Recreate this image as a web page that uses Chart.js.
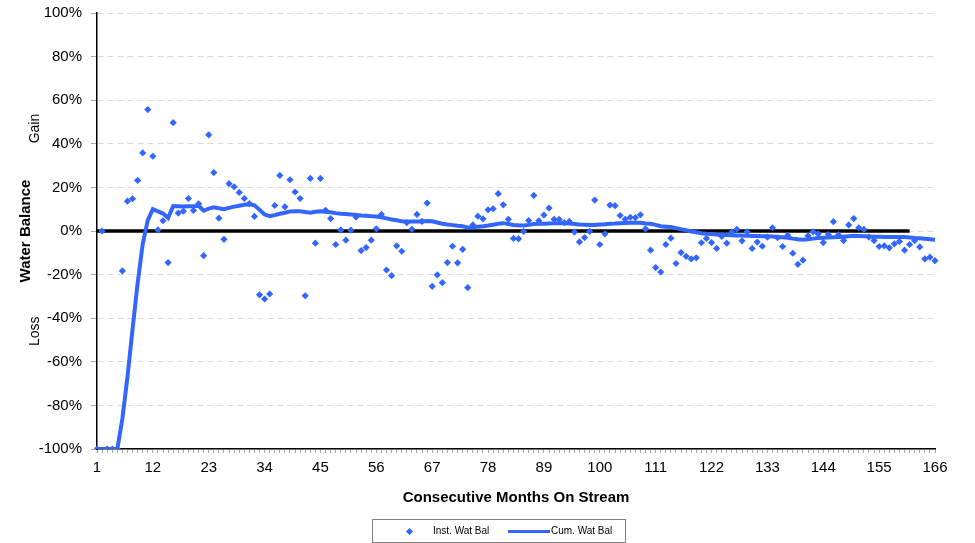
<!DOCTYPE html>
<html>
<head>
<meta charset="utf-8">
<script src="https://cdn.jsdelivr.net/npm/chart.js@4"></script>
<style>
  body{margin:0;background:#fff;}
  #caixa{position:relative;width:975px;height:543px;}
  #legenda{position:absolute;left:372px;top:519px;width:254px;height:24px;border:1px solid #808080;box-sizing:border-box;
    font:10px Arial,"Liberation Sans",sans-serif;color:#000;}
  #legenda span{position:absolute;}
  .losango{left:34px;top:9px;width:5px;height:5px;background:#3366ff;transform:rotate(45deg);}
  .traco{left:135px;top:10px;width:42px;height:3px;background:#3366ff;}
  .txt{top:5px;white-space:nowrap;}
</style>
</head>
<body>
<div id="caixa">
  <canvas id="graficoAgua" width="975" height="543"></canvas>
  <div id="legenda">
    <span class="losango"></span><span class="txt" style="left:60px">Inst. Wat Bal</span>
    <span class="traco"></span><span class="txt" style="left:178px">Cum. Wat Bal</span>
  </div>
</div>
<script>
//MESES (CATEGORIAS DO EIXO X)
const meses = [1,2,3,4,5,6,7,8,9,10,11,12,13,14,15,16,17,18,19,20,21,22,23,24,25,26,27,28,29,30,
  31,32,33,34,35,36,37,38,39,40,41,42,43,44,45,46,47,48,49,50,51,52,53,54,55,56,57,58,59,60,
  61,62,63,64,65,66,67,68,69,70,71,72,73,74,75,76,77,78,79,80,81,82,83,84,85,86,87,88,89,90,
  91,92,93,94,95,96,97,98,99,100,101,102,103,104,105,106,107,108,109,110,111,112,113,114,115,116,117,118,119,120,
  121,122,123,124,125,126,127,128,129,130,131,132,133,134,135,136,137,138,139,140,141,142,143,144,145,146,147,148,149,150,
  151,152,153,154,155,156,157,158,159,160,161,162,163,164,165,166];

//ROTULOS VISIVEIS NO EIXO X
const rotulosX = [1,12,23,34,45,56,67,78,89,100,111,122,133,144,155,166];

//BALANCO INSTANTANEO (%)
const balancoInst = [
  -100, 0, -100, -100, -100, -18.3, 13.7, 14.8, 23.2, 35.8,
  55.7, 34.3, 0.5, 4.7, -14.5, 49.7, 8.2, 9.1, 14.9, 9.4,
  12.5, -11.3, 44.1, 26.8, 5.9, -3.8, 21.7, 20.3, 17.7, 14.9,
  12.6, 6.7, -29.3, -31.2, -28.9, 11.7, 25.5, 11.1, 23.5, 17.9,
  14.9, -29.7, 24.1, -5.6, 24.1, 9.5, 5.7, -6.2, 0.5, -4.2,
  0.4, 6.4, -9, -7.6, -4.2, 1, 7.6, -17.9, -20.5, -6.8,
  -9.3, 3.8, 0.8, 7.6, 4.4, 12.8, -25.4, -20.1, -23.7, -14.5,
  -7, -14.6, -8.4, -26, 2.8, 6.8, 5.6, 9.7, 10.2, 17.1,
  12, 5.4, -3.4, -3.6, -0.2, 4.8, 16.3, 4.7, 7.3, 10.5,
  5.4, 5.3, 3.8, 4.4, -0.5, -5, -3, -0.2, 14.2, -6.2,
  -1.3, 11.9, 11.6, 7.1, 5.4, 6.3, 6.1, 7.4, 1, -8.8,
  -16.8, -18.8, -6.2, -3.3, -14.9, -9.9, -11.6, -12.8, -12.3, -5.4,
  -3.4, -5.3, -8, -2.5, -5.6, -0.5, 0.8, -4.5, -0.4, -8,
  -5.1, -7, -2.8, 1.5, -3.1, -7.1, -2, -10.2, -15.3, -13.4,
  -2.2, -0.4, -1.3, -5.3, -1.6, 4.3, -1.8, -4.4, 2.8, 5.7,
  1.5, 0.7, -2.8, -4.4, -7.1, -6.8, -7.7, -5.9, -4.8, -8.8,
  -6.2, -4.4, -7.3, -12.8, -12, -13.6];

//BALANCO ACUMULADO (%)
const balancoCum = [
  -100, -100, -100, -100, -100, -86, -67, -45, -24, -6,
  5, 10, 9, 8, 6, 11.4, 11.3, 11.2, 11.4, 11.3,
  11.6, 9.3, 10.3, 10.9, 10.4, 10, 10.6, 11.2, 11.6, 12,
  12.3, 11.8, 9.7, 7.6, 6.8, 7.3, 7.9, 8.4, 9, 9.1,
  9.1, 8.7, 8.4, 8.8, 9, 8.8, 8.6, 8.2, 7.9, 7.8,
  7.6, 7.4, 7.1, 7, 6.8, 6.6, 6.3, 5.8, 5.3, 4.9,
  4.5, 4.4, 4.4, 4.4, 4.4, 4.6, 4.5, 3.9, 3.3, 3,
  2.7, 2.4, 2.2, 1.5, 1.7, 2, 2.2, 2.5, 2.9, 3.3,
  3.6, 3.2, 2.8, 2.6, 2.5, 2.8, 3.2, 3.3, 3.3, 3.4,
  3.5, 3.6, 3.6, 3.4, 3.2, 3, 2.9, 2.8, 2.8, 3,
  3.1, 3.3, 3.4, 3.6, 3.7, 3.8, 3.8, 3.8, 3.4, 3.3,
  2.8, 2.2, 2, 1.8, 1.3, 0.8, 0.4, -0.2, -0.6, -1,
  -1.3, -1.4, -1.6, -1.7, -1.8, -1.9, -2.1, -2.1, -2.2, -2.3,
  -2.3, -2.4, -2.4, -2.5, -2.7, -2.9, -3.1, -3.5, -3.8, -4,
  -3.8, -3.5, -3.2, -3.1, -3, -2.9, -2.8, -2.6, -2.4, -2.2,
  -2.3, -2.4, -2.5, -2.6, -2.6, -2.7, -2.7, -2.8, -2.8, -2.8,
  -3, -3.2, -3.3, -3.6, -3.8, -4];

//LINHA DE REFERENCIA EM 0% (DO MES 1 AO 161)
const linhaZero = [{x: 1, y: 0}, {x: 161, y: 0}];

//TEXTOS LATERAIS DO EIXO Y
const textosY = [['Gain', 47], ['Loss', -46]];

const azul = '#3366ff';
Chart.defaults.font.family = 'Arial, "Liberation Sans", sans-serif';
Chart.defaults.color = '#000';

//PLUGIN PARA ESCREVER GAIN / LOSS
const ganhoPerda = {
  id: 'ganhoPerda',
  afterDraw(chart) {
    const {ctx, scales: {y}} = chart;
    ctx.save();
    ctx.font = '14px Arial, "Liberation Sans", sans-serif';
    ctx.fillStyle = '#000';
    ctx.textAlign = 'center';
    ctx.textBaseline = 'middle';
    textosY.forEach(([t, v]) => {
      ctx.save();
      ctx.translate(35, y.getPixelForValue(v));
      ctx.rotate(-Math.PI / 2);
      ctx.fillText(t, 0, 0);
      ctx.restore();
    });
    ctx.restore();
  }
};

const ctx = document.getElementById('graficoAgua').getContext('2d');
new Chart(ctx, {
  type: 'line',
  data: {
    labels: meses,
    datasets: [{
      label: 'Inst. Wat Bal',
      data: balancoInst,
      showLine: false,
      pointStyle: 'rectRot',
      pointRadius: 3.6,
      pointHoverRadius: 3.6,
      pointBorderWidth: 0,
      pointBackgroundColor: azul,
      pointBorderColor: azul,
      borderColor: azul,
      backgroundColor: azul
    }, {
      label: 'Cum. Wat Bal',
      data: balancoCum,
      borderColor: azul,
      borderWidth: 4,
      pointRadius: 0,
      tension: 0,
      fill: false
    }, {
      label: 'zero',
      data: linhaZero,
      borderColor: '#000',
      borderWidth: 3.5,
      pointRadius: 0,
      fill: false
    }]
  },
  options: {
    responsive: false,
    animation: false,
    layout: {padding: {left: 0, right: 40, top: 13, bottom: 36}},
    plugins: {
      legend: {display: false},
      tooltip: {enabled: false}
    },
    scales: {
      x: {
        type: 'category',
        offset: false,
        grid: {display: true, drawOnChartArea: false, tickLength: 4, tickColor: '#a6a6a6'},
        border: {color: '#000', width: 1.5},
        ticks: {
          autoSkip: false,
          maxRotation: 0,
          padding: 6,
          font: {size: 15},
          callback: function (v) {
            const r = this.getLabelForValue(v);
            return rotulosX.includes(r) ? String(r) : '';
          }
        },
        title: {display: true, text: 'Consecutive Months On Stream', font: {size: 15, weight: 'bold'}, padding: 0},
        afterFit: s => { s.height = 58; }
      },
      y: {
        min: -100,
        max: 100,
        ticks: {stepSize: 20, padding: 9, font: {size: 15}, callback: v => v + '%'},
        grid: {color: '#d9d9d9', lineWidth: 1, tickLength: 6, tickColor: '#a6a6a6'},
        border: {color: '#000', width: 1.5, dash: [6, 4]},
        title: {display: true, text: 'Water Balance', font: {size: 15, weight: 'bold'}, padding: 17},
        afterFit: s => { s.width = 97; s.paddingTop = 0; s.paddingBottom = 0; }
      }
    }
  },
  plugins: [ganhoPerda]
});
</script>
</body>
</html>
